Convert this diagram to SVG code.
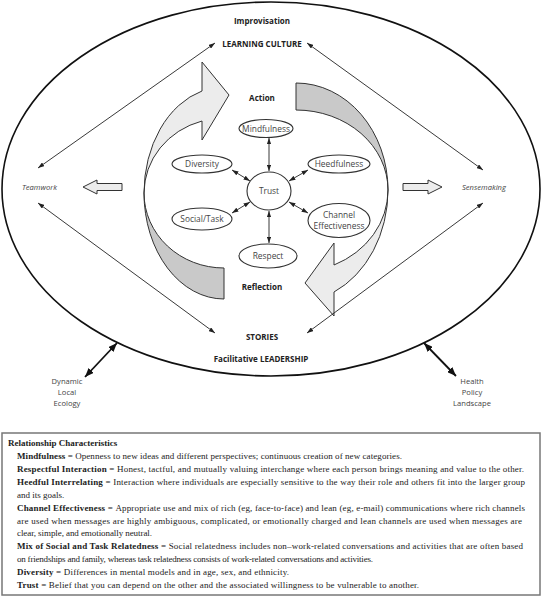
<svg xmlns="http://www.w3.org/2000/svg" width="542" height="600" viewBox="0 0 542 600">
<style>
.lbl{font-family:"Open Sans","Noto Sans","Liberation Sans",sans-serif;font-weight:bold;font-size:8px;fill:#222;text-anchor:middle}
.nt{font-family:"Open Sans","Noto Sans","Liberation Sans",sans-serif;font-size:8.4px;fill:#444;text-anchor:middle}
.side{font-family:"Open Sans","Noto Sans","Liberation Sans",sans-serif;font-size:7.6px;fill:#444}
.node{fill:#fff;stroke:#333;stroke-width:1.1}
.thin{stroke:#222;stroke-width:0.9;fill:none;marker-start:url(#ah);marker-end:url(#ah)}
.thick{stroke:#111;stroke-width:1.8;fill:none;marker-start:url(#ahb);marker-end:url(#ahb)}
.light{fill:#ececec;stroke:#333;stroke-width:1}
.dark{fill:#c9c9c9;stroke:#333;stroke-width:1}
.box{font-family:"Liberation Serif","Times New Roman",serif;font-size:9px;fill:#222}
.b{font-weight:bold}
</style>
<defs>
<marker id="ah" viewBox="0 0 10 7" refX="10" refY="3.5" markerWidth="6.5" markerHeight="4.5" markerUnits="userSpaceOnUse" orient="auto-start-reverse"><path d="M0,0 L10,3.5 L0,7 z" fill="#222"/></marker>
<marker id="ahb" viewBox="0 0 10 8" refX="10" refY="4" markerWidth="9" markerHeight="7.2" markerUnits="userSpaceOnUse" orient="auto-start-reverse"><path d="M0,0 L10,4 L0,8 z" fill="#111"/></marker>
</defs>
<rect width="542" height="600" fill="#fff"/>

<ellipse id="outer" cx="271" cy="189" rx="269" ry="187" fill="none" stroke="#111" stroke-width="1.6"/>

<g id="cycle-arrows">
<path class="dark" d="M224,299 A80,106 0 0 1 144,193 A80,75 0 0 0 224,268 Z"/>
<path class="light" d="M144,193 A80,106 0 0 1 202,91 L202,62 L229,95 L202,140 L202,121 A80,75 0 0 0 144,193 Z"/>
<path class="dark" d="M296,83 A92,107 0 0 1 388,190 A92,80 0 0 0 296,110 Z"/>
<path class="light" d="M388,190 A92,112 0 0 1 334,292 L334,316 L305,283 L334,243 L334,265 A92,82 0 0 0 388,190 Z"/>
<path class="light" d="M83,187 L97,180 L97,183.5 L122,183.5 L122,190.5 L97,190.5 L97,194 Z"/>
<path class="light" d="M442,187 L428,180 L428,183.5 L403,183.5 L403,190.5 L428,190.5 L428,194 Z"/>
</g>

<g id="connectors">
<line class="thin" x1="38" y1="168" x2="215" y2="43"/>
<line class="thin" x1="483" y1="170" x2="307" y2="43"/>
<line class="thin" x1="38" y1="203" x2="215" y2="333"/>
<line class="thin" x1="483" y1="203" x2="307" y2="333"/>
<line class="thin" x1="269" y1="138" x2="269" y2="171"/>
<line class="thin" x1="269" y1="211" x2="269" y2="243"/>
<line class="thin" x1="232" y1="170" x2="250" y2="181"/>
<line class="thin" x1="308" y1="170" x2="289" y2="181"/>
<line class="thin" x1="232" y1="213" x2="250" y2="202"/>
<line class="thin" x1="308" y1="213" x2="289" y2="202"/>
<line class="thick" x1="117" y1="343" x2="85" y2="377"/>
<line class="thick" x1="424" y1="343" x2="456" y2="376"/>
</g>

<g id="labels">
<text class="lbl" x="262" y="23.5">Improvisation</text>
<text class="lbl" x="262" y="46.5">LEARNING CULTURE</text>
<text class="lbl" x="262" y="100.5">Action</text>
<text class="lbl" x="262" y="290">Reflection</text>
<text class="lbl" x="262" y="340">STORIES</text>
<text class="lbl" x="261" y="362">Facilitative LEADERSHIP</text>
<text class="side" x="22" y="190" font-style="italic">Teamwork</text>
<text class="side" x="462" y="190" font-style="italic">Sensemaking</text>
<text class="side" x="67" y="384" text-anchor="middle">Dynamic</text>
<text class="side" x="67" y="395" text-anchor="middle">Local</text>
<text class="side" x="67" y="406" text-anchor="middle">Ecology</text>
<text class="side" x="472" y="384" text-anchor="middle">Health</text>
<text class="side" x="472" y="395" text-anchor="middle">Policy</text>
<text class="side" x="472" y="406" text-anchor="middle">Landscape</text>
</g>

<g id="trust"><ellipse class="node" cx="269" cy="191" rx="22" ry="19"/><text class="nt" x="269" y="194">Trust</text></g>
<g id="mindfulness"><ellipse class="node" cx="266" cy="128.5" rx="27" ry="9"/><text class="nt" x="266" y="131.5">Mindfulness</text></g>
<g id="diversity"><ellipse class="node" cx="202" cy="164" rx="30" ry="9"/><text class="nt" x="202" y="167">Diversity</text></g>
<g id="heedfulness"><ellipse class="node" cx="339" cy="164" rx="31" ry="9"/><text class="nt" x="339" y="167">Heedfulness</text></g>
<g id="socialtask"><ellipse class="node" cx="202" cy="219" rx="30" ry="11"/><text class="nt" x="202" y="222">Social/Task</text></g>
<g id="channel"><ellipse class="node" cx="339" cy="220.5" rx="31" ry="17"/><text class="nt" x="339" y="218">Channel</text><text class="nt" x="339" y="228.5">Effectiveness</text></g>
<g id="respect"><ellipse class="node" cx="268" cy="256" rx="29" ry="12"/><text class="nt" x="268" y="259">Respect</text></g>

<g id="legend">
<rect x="2" y="433" width="538" height="162" fill="#fff" stroke="#777" stroke-width="1.5"/>
<text class="box b" x="8" y="446">Relationship Characteristics</text>
<text class="box" x="17" y="459" textLength="385" lengthAdjust="spacing"><tspan class="b">Mindfulness = </tspan>Openness to new ideas and different perspectives; continuous creation of new categories.</text>
<text class="box" x="17" y="472" textLength="507" lengthAdjust="spacing"><tspan class="b">Respectful Interaction = </tspan>Honest, tactful, and mutually valuing interchange where each person brings meaning and value to the other.</text>
<text class="box" x="17" y="485" textLength="508" lengthAdjust="spacing"><tspan class="b">Heedful Interrelating = </tspan>Interaction where individuals are especially sensitive to the way their role and others fit into the larger group</text>
<text class="box" x="17" y="497.5">and its goals.</text>
<text class="box" x="17" y="510.5" textLength="508" lengthAdjust="spacing"><tspan class="b">Channel Effectiveness = </tspan>Appropriate use and mix of rich (eg, face-to-face) and lean (eg, e-mail) communications where rich channels</text>
<text class="box" x="17" y="523.5" textLength="505" lengthAdjust="spacing">are used when messages are highly ambiguous, complicated, or emotionally charged and lean channels are used when messages are</text>
<text class="box" x="17" y="536" textLength="135" lengthAdjust="spacing">clear, simple, and emotionally neutral.</text>
<text class="box" x="17" y="549" textLength="506" lengthAdjust="spacing"><tspan class="b">Mix of Social and Task Relatedness = </tspan>Social relatedness includes non–work-related conversations and activities that are often based</text>
<text class="box" x="17" y="562" textLength="356" lengthAdjust="spacing">on friendships and family, whereas task relatedness consists of work-related conversations and activities.</text>
<text class="box" x="17" y="575" textLength="272" lengthAdjust="spacing"><tspan class="b">Diversity = </tspan>Differences in mental models and in age, sex, and ethnicity.</text>
<text class="box" x="17" y="588" textLength="402" lengthAdjust="spacing"><tspan class="b">Trust = </tspan>Belief that you can depend on the other and the associated willingness to be vulnerable to another.</text>
</g>
</svg>
